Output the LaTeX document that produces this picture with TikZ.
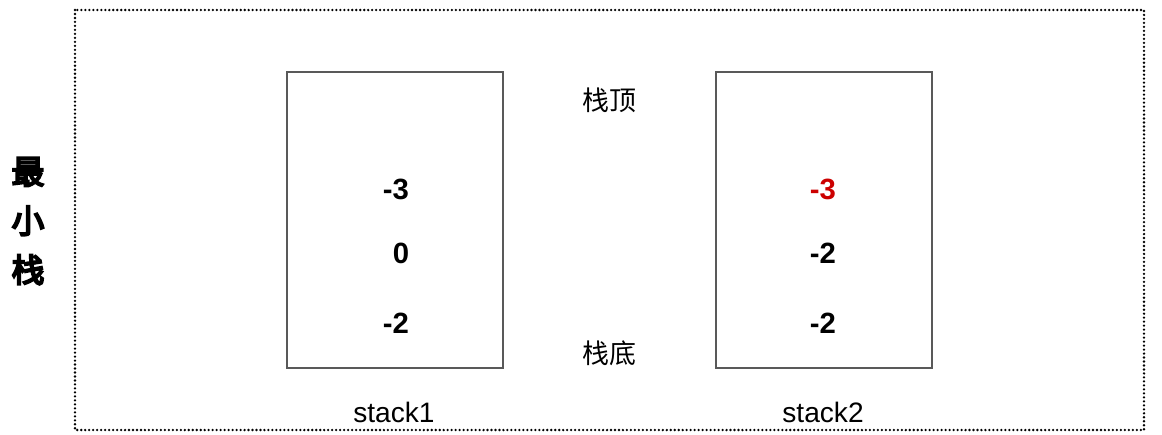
\documentclass[tikz,border=0pt]{standalone}
\usepackage{fontspec}
\setmainfont{Liberation Sans}
\newfontfamily\cjk{Noto Sans CJK SC}
\newfontfamily\cjkheavy{Noto Sans CJK SC}[FakeBold=6]
\usepackage{tikz}

\begin{document}
\begin{tikzpicture}[x=0.03cm,y=-0.03cm]
\tikzset{every node/.style={inner sep=0pt},
  stackbox/.style={draw=black!65,line width=1.2pt},
  num/.style={font=\fontsize{25}{25}\selectfont\bfseries},
  side/.style={font=\fontsize{23}{23}\selectfont\cjk},
  stacklabel/.style={font=\fontsize{24}{24}\selectfont}}
\useasboundingbox (0,0) rectangle (1162,434);
\draw [black,line width=2.2pt,line cap=round,dash pattern=on 0pt off 3.4pt] (75,10) rectangle (1144,430);
\node [font=\fontsize{28}{42}\selectfont\cjkheavy,align=center] (title) at (28,221) {最\\小\\栈};
\draw [stackbox] (287,72) rectangle (503,368);
\draw [stackbox] (716,72) rectangle (932,368);
\node [num] (a1) at (396,189) {-3};
\node [num] (a2) at (401,253) {0};
\node [num] (a3) at (396,323) {-2};
\node [num,text=red!80!black] (b1) at (823,189) {-3};
\node [num] (b2) at (823,253) {-2};
\node [num] (b3) at (823,323) {-2};
\node [side] (top) at (609,100) {栈顶};
\node [side] (bottom) at (609,353) {栈底};
\node [stacklabel] (l1) at (394,412) {stack1};
\node [stacklabel] (l2) at (823,412) {stack2};
\end{tikzpicture}
\end{document}
